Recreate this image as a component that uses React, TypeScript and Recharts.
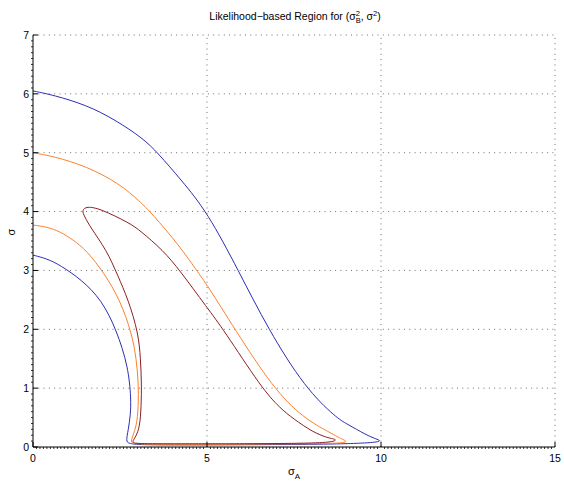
import { LineChart, Line, XAxis, YAxis, ReferenceLine } from "recharts"

// sigma_A / sigma pairs, each curve traced as one path
const blueA = [0, 0.58, 1.54, 2.36, 3.17, 3.58, 4.27, 5.01, 5.9, 6.76, 7.82, 8.73, 9.0, 9.59, 9.85, 10.02,
  9.8, 9.6, 9.0, 8.0, 6.5, 5.0, 3.7, 3.0, 2.75, 2.67,
  2.74, 2.8, 2.82, 2.74, 2.4, 1.97, 1.4, 0.78, 0.4, 0]
const blueS = [6.05, 5.98, 5.81, 5.56, 5.24, 5.0, 4.53, 3.99, 3.0, 2.0, 1.0, 0.49, 0.4, 0.2, 0.14, 0.1,
  0.08, 0.07, 0.055, 0.045, 0.04, 0.035, 0.035, 0.04, 0.06, 0.1,
  0.29, 0.55, 0.8, 1.36, 1.99, 2.5, 2.84, 3.09, 3.2, 3.26]

const orangeA = [0, 0.58, 1.54, 2.5, 3.07, 3.4, 4.22, 4.7, 5.01, 5.8, 6.9, 7.77, 8.55, 8.85, 9.06,
  8.85, 8.0, 6.5, 5.0, 3.7, 3.1, 2.87, 2.79,
  2.98, 3.03, 3.03, 2.97, 2.84, 2.5, 2.05, 1.54, 1.15, 0.78, 0.4, 0]
const orangeS = [5.0, 4.94, 4.77, 4.47, 4.17, 3.98, 3.41, 3.0, 2.75, 2.0, 1.0, 0.49, 0.24, 0.14, 0.09,
  0.065, 0.055, 0.05, 0.045, 0.045, 0.05, 0.06, 0.09,
  0.34, 0.7, 1.08, 1.5, 1.93, 2.5, 2.95, 3.34, 3.52, 3.66, 3.74, 3.77]

const redA = [5.0, 4.0, 3.4, 3.0, 2.88, 2.86,
  2.95, 3.07, 3.11, 3.12, 3.09, 3.03, 2.74, 2.43, 2.12, 1.64, 1.48, 1.4, 1.54,
  1.93, 2.79, 3.07, 3.74, 4.22, 5.01, 5.47, 6.57, 7.1, 7.48, 8.05, 8.45, 8.62, 8.74,
  8.55, 7.5, 6.0, 5.0]
const redS = [0.055, 0.055, 0.055, 0.06, 0.07, 0.1,
  0.17, 0.34, 0.7, 1.08, 1.5, 1.93, 2.5, 2.92, 3.34, 3.74, 3.92, 4.02, 4.09,
  4.05, 3.8, 3.68, 3.34, 3.0, 2.36, 2.0, 1.0, 0.66, 0.48, 0.25, 0.16, 0.14, 0.12,
  0.075, 0.06, 0.055, 0.055]

const xMajor = [0, 5, 10, 15]
const yMajor = [0, 1, 2, 3, 4, 5, 6, 7]
const xMinor = Array.from({ length: 151 }, (_, i) => i / 10)
const yMinor = Array.from({ length: 71 }, (_, i) => i / 10)

const toPoints = (a: number[], s: number[]) => a.map((v, i) => ({ a: v, s: s[i] }))

const font = "'Liberation Sans', Arial, Helvetica, sans-serif"
const gridStroke = "#6f6f6f"
const gridDash = "1 4.3"

const XTick = ({ x, y, payload }: any) => {
  const v = payload.value
  const major = xMajor.some((m) => Math.abs(m - v) < 1e-6)
  return (
    <g>
      {major ? (
        <line x1={x} x2={x} y1={y} y2={y - 5} stroke="#000" />
      ) : (
        <line x1={x} x2={x} y1={y} y2={y + 2} stroke="#000" strokeWidth={0.8} />
      )}
      {major && (
        <text x={x} y={y + 15} textAnchor="middle" fontSize={10.5} fontFamily={font} fill="#000">
          {Math.round(v)}
        </text>
      )}
    </g>
  )
}

const YTick = ({ x, y, payload }: any) => {
  const v = payload.value
  const major = yMajor.some((m) => Math.abs(m - v) < 1e-6)
  return (
    <g>
      {major ? (
        <line x1={x} x2={x + 5} y1={y} y2={y} stroke="#000" />
      ) : (
        <line x1={x} x2={x - 2} y1={y} y2={y} stroke="#000" strokeWidth={0.8} />
      )}
      {major && (
        <text x={x - 4} y={y + 3.8} textAnchor="end" fontSize={10.5} fontFamily={font} fill="#000">
          {Math.round(v)}
        </text>
      )}
    </g>
  )
}

export default function App() {
  return (
    <div style={{ position: "absolute", left: 0, top: 0, width: 564, height: 481 }}>
      <LineChart width={564} height={481} margin={{ top: 35, right: 9, left: 13, bottom: 4 }}>
        <XAxis
          type="number"
          dataKey="a"
          domain={[0, 15]}
          ticks={xMinor}
          interval={0}
          allowDataOverflow
          height={30}
          tickSize={0}
          tickMargin={0}
          tickLine={false}
          tick={(p: any) => <XTick {...p} />}
          axisLine={{ stroke: "#000" }}
        />
        <YAxis
          type="number"
          dataKey="s"
          domain={[0, 7]}
          ticks={yMinor}
          interval={0}
          allowDataOverflow
          width={20}
          tickSize={0}
          tickMargin={0}
          tickLine={false}
          tick={(p: any) => <YTick {...p} />}
          axisLine={{ stroke: "#000" }}
        />
        {xMajor.slice(1).map((v) => (
          <ReferenceLine key={"gx" + v} x={v} stroke={gridStroke} strokeDasharray={gridDash} />
        ))}
        {yMajor.slice(1).map((v) => (
          <ReferenceLine key={"gy" + v} y={v} stroke={gridStroke} strokeDasharray={gridDash} />
        ))}
        <Line data={toPoints(blueA, blueS)} dataKey="s" type="basis" stroke="#2d2db4" strokeWidth={1} dot={false} isAnimationActive={false} />
        <Line data={toPoints(orangeA, orangeS)} dataKey="s" type="basis" stroke="#ff7f2a" strokeWidth={1} dot={false} isAnimationActive={false} />
        <Line data={toPoints(redA, redS)} dataKey="s" type="basis" stroke="#8b2020" strokeWidth={1} dot={false} isAnimationActive={false} />
      </LineChart>
      <svg
        width={564}
        height={481}
        style={{ position: "absolute", left: 0, top: 0, pointerEvents: "none" }}
        fontFamily={font}
      >
        <text x={295} y={19.5} textAnchor="middle" fontSize={10.5} fill="#000">
          <tspan>Likelihood−based Region for (σ</tspan>
          <tspan dy={-4} fontSize={7.5}>2</tspan>
          <tspan dx={-4.2} dy={7} fontSize={7.5}>B</tspan>
          <tspan dy={-3}>, σ</tspan>
          <tspan dy={-4} fontSize={7.5}>2</tspan>
          <tspan dy={4}>)</tspan>
        </text>
        <text x={294} y={475} textAnchor="middle" fontSize={11} fill="#000">
          <tspan>σ</tspan>
          <tspan dy={4} fontSize={8}>A</tspan>
        </text>
        <text x={0} y={0} textAnchor="middle" fontSize={11} fill="#000" transform="translate(15 232) rotate(-90)">
          σ
        </text>
      </svg>
    </div>
  )
}
